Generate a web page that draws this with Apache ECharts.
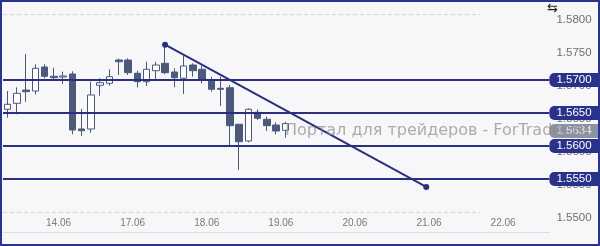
<!DOCTYPE html>
<html><head><meta charset="utf-8">
<script src="https://cdn.jsdelivr.net/npm/echarts@6/dist/echarts.min.js"></script>
<style>
html,body{margin:0;padding:0;background:#f7f7f9;}
#wrap{position:relative;width:600px;height:246px;}
#chart{position:absolute;left:0;top:0;width:600px;height:246px;}
#frame{position:absolute;left:0;top:0;width:600px;height:246px;box-sizing:border-box;border:2px solid #2b3391;pointer-events:none;}
</style></head>
<body><div id="wrap"><div id="chart"></div><div id="frame"></div></div>
<script>
// H3 candles: [open, close, low, high]
const candles = [
  [1.56556,1.56632,1.56429,1.56833],
  [1.56647,1.56798,1.56480,1.56889],
  [1.56848,1.56823,1.56671,1.57394],
  [1.56833,1.57177,1.56783,1.57238],
  [1.57197,1.57056,1.57026,1.57238],
  [1.57056,1.57035,1.57000,1.57186],
  [1.57045,1.57061,1.56939,1.57126],
  [1.57091,1.56242,1.56177,1.57132],
  [1.56258,1.56232,1.56152,1.56561],
  [1.56258,1.56773,1.56201,1.56974],
  [1.56920,1.56959,1.56762,1.57026],
  [1.56950,1.57050,1.56914,1.57162],
  [1.57303,1.57277,1.57076,1.57323],
  [1.57303,1.57111,1.57076,1.57329],
  [1.57102,1.56974,1.56889,1.57141],
  [1.56974,1.57162,1.56909,1.57277],
  [1.57141,1.57227,1.57000,1.57277],
  [1.57253,1.57111,1.57086,1.57535],
  [1.57121,1.57035,1.56889,1.57177],
  [1.57026,1.57212,1.56788,1.57364],
  [1.57227,1.57141,1.57050,1.57253],
  [1.57162,1.57000,1.56950,1.57212],
  [1.57000,1.56859,1.56823,1.57050],
  [1.56874,1.56859,1.56606,1.57050],
  [1.56883,1.56308,1.56005,1.56924],
  [1.56329,1.56065,1.55636,1.56329],
  [1.56076,1.56556,1.56056,1.56571],
  [1.56511,1.56420,1.56394,1.56556],
  [1.56405,1.56308,1.56227,1.56444],
  [1.56318,1.56227,1.56177,1.56359],
  [1.56238,1.56340,1.56126,1.56368]
];
const slotCount = 59;                 // bar slots visible on the time axis
const dayLabels = ['14.06','17.06','18.06','19.06','20.06','21.06','22.06'];
const daySlots  = [6,14,22,30,38,46,54];
const levels = [1.5700, 1.5650, 1.5600, 1.5550];
const lastPrice = 1.5634;
const trendX = [17.5, 45.7];
const trendY = [1.57535, 1.55379];
const frameLevels = [1.5800, 1.5500];
const frameEndSlot = 51.5;
const yTicks = {min:1.5500, max:1.5800, step:0.0050};

const categories = [];
for (let i = 0; i < slotCount; i++) categories.push(String(i));

const LINE = '#2a2f82';
const BOX = '#29318b';
const DARK = '#4b5a7b';
const boxLabel = {show:true, position:'end', distance:0,
  formatter:function(p){return Number(p.value).toFixed(4);},
  color:'#ffffff', fontSize:11.5, fontFamily:'Liberation Sans', lineHeight:12,
  backgroundColor:BOX, padding:[1,8,1,7], borderRadius:[5,0,0,5]};

const levelSeries = levels.map(function(v){
  return {type:'line', xAxisIndex:1, yAxisIndex:0, z:5, data:[], silent:true,
    markLine:{silent:true, symbol:'none', animation:false, precision:6,
      lineStyle:{color:LINE, width:2, type:'solid'}, label:boxLabel,
      data:[{yAxis:v}]}};
});
const frameSeries = frameLevels.map(function(v){
  return {type:'line', xAxisIndex:1, yAxisIndex:0, z:1, data:[], silent:true,
    markLine:{silent:true, symbol:'none', animation:false, precision:6,
      lineStyle:{color:'#d4d4d8', width:1, type:[4,3]}, label:{show:false},
      data:[[{coord:[0, v]}, {coord:[frameEndSlot, v]}]]}};
});
const lastSeries = {type:'line', xAxisIndex:1, yAxisIndex:0, z:6, data:[], silent:true,
  markLine:{silent:true, symbol:'none', animation:false, precision:6,
    lineStyle:{color:'rgba(0,0,0,0)', width:1, type:'solid'},
    label:{show:true, position:'end', distance:0,
      formatter:function(p){return '{a|' + Number(p.value).toFixed(4) + '}';},
      padding:[15,0,0,0],
      rich:{a:{color:'#e6e6ea', fontSize:11.5, fontFamily:'Liberation Sans', lineHeight:12,
        backgroundColor:'rgba(100,108,128,0.72)', padding:[1,8,1,7], borderRadius:[5,0,0,5]}}},
    data:[{yAxis:lastPrice}]}};

const chart = echarts.init(document.getElementById('chart'), null, {renderer:'canvas'});
chart.setOption({
  animation:false,
  backgroundColor:'#f7f7f9',
  grid:{left:1.4, right:50.6, top:14, bottom:34},
  xAxis:[
    {type:'category', data:categories, boundaryGap:true, position:'bottom', offset:20,
     axisLine:{show:true, lineStyle:{color:'#dedee2', width:1}}, axisTick:{show:false},
     axisLabel:{show:false}, splitLine:{show:false}},
    {type:'value', min:0, max:slotCount, interval:2, position:'bottom',
     axisLine:{show:false}, axisTick:{show:false}, splitLine:{show:false},
     axisLabel:{show:true, margin:6, color:'#7a7a7a', fontSize:10, fontFamily:'Liberation Sans',
       formatter:function(v){const k = daySlots.indexOf(v); return k>=0 ? dayLabels[k] : '';}}}
  ],
  yAxis:{type:'value', position:'right', min:yTicks.min, max:yTicks.max, interval:yTicks.step,
    axisLine:{show:false}, axisTick:{show:false}, splitLine:{show:false},
    axisLabel:{margin:7, color:'#6e6e6e', fontSize:11.5, fontFamily:'Liberation Sans', verticalAlign:'top',
      formatter:function(v){return v.toFixed(4);}}},
  graphic:[
    {type:'text', left:285, top:123, z:100, silent:true,
     style:{text:'Портал для трейдеров - ForTrader.ru', fill:'rgba(140,140,140,0.7)', font:'16px "DejaVu Sans"'}},
    {type:'text', left:547, top:2, z:10, silent:true,
     style:{text:'⇆', fill:'#222', font:'13px "DejaVu Sans"'}}
  ],
  series:[
    {type:'candlestick', xAxisIndex:0, yAxisIndex:0, barWidth:7, z:3,
     data:candles,
     itemStyle:{color:'#ffffff', color0:DARK, borderColor:DARK, borderColor0:DARK, borderWidth:1}},
    {type:'line', xAxisIndex:1, yAxisIndex:0, z:4,
     data:[[trendX[0],trendY[0]],[trendX[1],trendY[1]]],
     symbol:'circle', symbolSize:6, showSymbol:true,
     lineStyle:{color:LINE, width:2}, itemStyle:{color:LINE}}
  ].concat(levelSeries, frameSeries, [lastSeries])
});
</script></body></html>
